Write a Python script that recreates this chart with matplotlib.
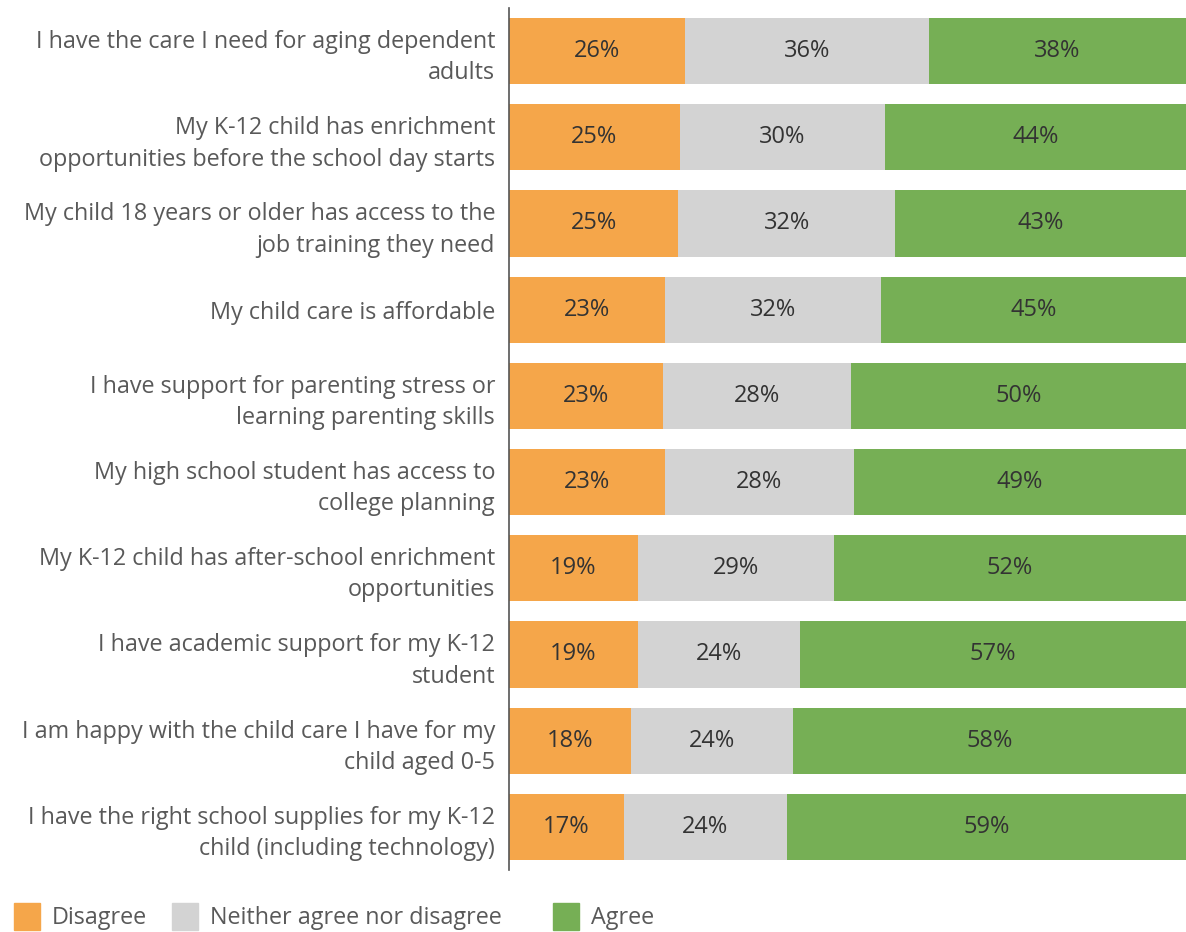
import matplotlib.pyplot as plt
import numpy as np
from matplotlib.patches import Rectangle

plt.rcParams['font.family'] = ['Open Sans', 'DejaVu Sans']

# survey statements, top to bottom
labels = [
    "I have the care I need for aging dependent\nadults",
    "My K-12 child has enrichment\nopportunities before the school day starts",
    "My child 18 years or older has access to the\njob training they need",
    "My child care is affordable",
    "I have support for parenting stress or\nlearning parenting skills",
    "My high school student has access to\ncollege planning",
    "My K-12 child has after-school enrichment\nopportunities",
    "I have academic support for my K-12\nstudent",
    "I am happy with the child care I have for my\nchild aged 0-5",
    "I have the right school supplies for my K-12\nchild (including technology)",
]
disagree = [26, 25, 25, 23, 23, 23, 19, 19, 18, 17]
neither = [36, 30, 32, 32, 28, 28, 29, 24, 24, 24]
agree = [38, 44, 43, 45, 50, 49, 52, 57, 58, 59]

series = ["Disagree", "Neither agree nor disagree", "Agree"]
colors = ["#F5A64A", "#D3D3D3", "#76AF55"]

data = np.array([disagree, neither, agree], dtype=float)
shares = data / data.sum(axis=0) * 100  # bars fill the full width

fig = plt.figure(figsize=(11.86, 9.32), dpi=100)
ax = fig.add_axes([509 / 1186, 62 / 932, 677 / 1186, 862 / 932])

y = np.arange(len(labels))
left = np.zeros(len(labels))
for i in range(3):
    ax.barh(y, shares[i], left=left, height=0.77, color=colors[i], edgecolor='none')
    for yy, l, w, v in zip(y, left, shares[i], data[i]):
        ax.text(l + w / 2, yy, f"{v:.0f}%", ha='center', va='center',
                fontsize=17, color='#333333')
    left += shares[i]

ax.set_xlim(0, 100)
ax.set_ylim(len(labels) - 0.5, -0.5)
ax.set_yticks(y)
ax.set_yticklabels(labels, fontsize=16.8, color='#595959', linespacing=1.4)
ax.tick_params(axis='y', length=0, pad=10)
ax.set_xticks([])
for s in ['top', 'right', 'bottom']:
    ax.spines[s].set_visible(False)
ax.spines['left'].set_color('#555555')
ax.spines['left'].set_linewidth(1.2)

# legend along the bottom left
leg_x = [14, 172, 553]
for x0, name, c in zip(leg_x, series, colors):
    fig.patches.append(Rectangle((x0 / 1186, 2 / 932), 26 / 1186, 27 / 932,
                                 transform=fig.transFigure, color=c))
    fig.text((x0 + 38) / 1186, 14 / 932, name, fontsize=16.8, color='#595959',
             va='center', ha='left')

fig.savefig("out.png", dpi=100)
